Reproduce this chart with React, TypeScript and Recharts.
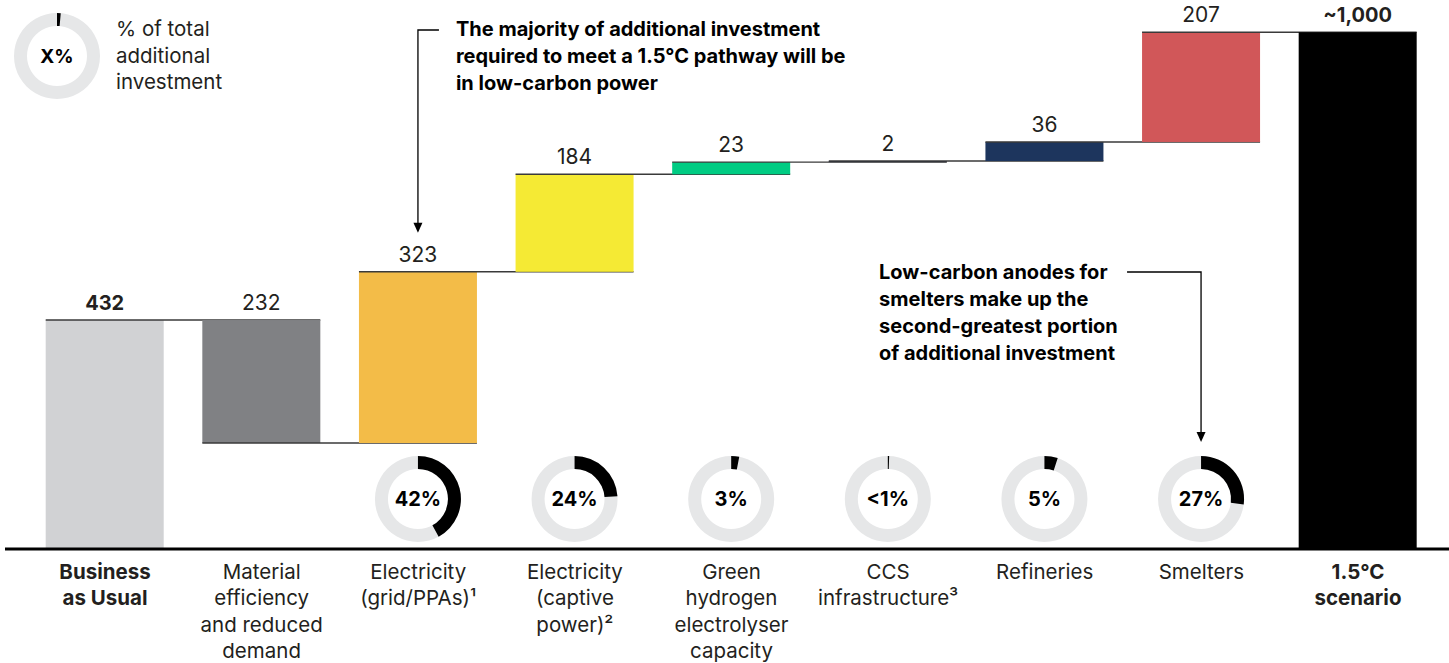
import React from "react";
import { BarChart, Bar, XAxis, YAxis, Cell, LabelList, Sector } from "recharts";

const FONT = "Inter, 'Noto Sans', sans-serif";
const TEXT = "#231f20";

const categories = [
  "Business as Usual",
  "Material efficiency and reduced demand",
  "Electricity (grid/PPAs)¹",
  "Electricity (captive power)²",
  "Green hydrogen electrolyser capacity",
  "CCS infrastructure³",
  "Refineries",
  "Smelters",
  "1.5°C scenario",
];
const tickLines = [
  ["Business", "as Usual"],
  ["Material", "efficiency", "and reduced", "demand"],
  ["Electricity", "(grid/PPAs)¹"],
  ["Electricity", "(captive", "power)²"],
  ["Green", "hydrogen", "electrolyser", "capacity"],
  ["CCS", "infrastructure³"],
  ["Refineries"],
  ["Smelters"],
  ["1.5°C", "scenario"],
];
const boldCategory = [true, false, false, false, false, false, false, false, true];
const kinds = ["total", "delta", "delta", "delta", "delta", "delta", "delta", "delta", "total"];
const values = [432, -232, 323, 184, 23, 2, 36, 207, 975];
const valueLabels = ["432", "232", "323", "184", "23", "2", "36", "207", "~1,000"];
const boldValue = [true, false, false, false, false, false, false, false, true];
const shares = [null, null, 42, 24, 3, 0.5, 5, 27, null];
const shareLabels = ["", "", "42%", "24%", "3%", "<1%", "5%", "27%", ""];
const barColors = ["#d1d2d4", "#808184", "#f3bc48", "#f5ea34", "#00cc83", "#1c2438", "#1d355d", "#d15759", "#000000"];

const annotationPower = [
  "The majority of additional investment",
  "required to meet a 1.5°C pathway will be",
  "in low-carbon power",
];
const annotationSmelters = [
  "Low-carbon anodes for",
  "smelters make up the",
  "second-greatest portion",
  "of additional investment",
];
const legendLines = ["% of total", "additional", "investment"];
const legendMark = "X%";

// waterfall rows
const rows = (() => {
  let running = 0;
  return categories.map((cat, i) => {
    const v = values[i];
    if (kinds[i] === "total") {
      running = v;
      return { cat, base: 0, size: v, delta: v };
    }
    const start = running;
    const end = running + v;
    running = end;
    return { cat, base: Math.min(start, end), size: Math.abs(v), delta: v };
  });
})();

const W = 1449;
const H = 663;
const M_LEFT = 5;
const M_RIGHT = 0;
const PAD_L = 21.7;
const PAD_R = 12.7;
const STEP = (W - M_LEFT - M_RIGHT - PAD_L - PAD_R) / categories.length;

const WaterfallShape = (props: any) => {
  const { x, y, width, height, fill, index } = props;
  const row = rows[index];
  const isLast = index === rows.length - 1;
  const lineY = row.delta < 0 ? y + height : y;
  return (
    <g>
      <rect x={x} y={y} width={width} height={Math.max(height, 0.8)} fill={fill} />
      {!isLast && (
        <line x1={x} x2={x + STEP + width} y1={lineY} y2={lineY} stroke="#3a3a3a" strokeWidth={1.4} />
      )}
    </g>
  );
};

const Donut = ({ cx, cy, share, label }: any) => (
  <g>
    <Sector cx={cx} cy={cy} innerRadius={30} outerRadius={43} startAngle={90} endAngle={-270} fill="#e6e7e8" />
    <Sector cx={cx} cy={cy} innerRadius={30} outerRadius={43} startAngle={90} endAngle={90 - 3.6 * share} fill="#000" />
    <text x={cx} y={cy + 7} textAnchor="middle" fontFamily={FONT} fontWeight={700} fontSize={20} fill="#000">
      {label}
    </text>
  </g>
);

const Arrow = ({ d, tipX, tipY }: any) => (
  <g>
    <path d={d} fill="none" stroke="#000" strokeWidth={1.3} />
    <polygon points={`${tipX - 4.5},${tipY - 10} ${tipX + 4.5},${tipY - 10} ${tipX},${tipY}`} fill="#000" />
  </g>
);

const ValueLabel = (props: any) => {
  const index = props.index;
  const row = rows[index];
  const x = Number(props.x);
  const y = Number(props.y);
  const width = Number(props.width);
  const height = Number(props.height);
  const cx = x + width / 2;
  const ppu = height / row.size;
  const baseline = y + height + row.base * ppu;
  return (
    <g>
      <text
        x={cx}
        y={y - 10}
        textAnchor="middle"
        fontFamily={FONT}
        fontSize={boldValue[index] ? 20 : 21}
        fontWeight={boldValue[index] ? 700 : 400}
        fill={TEXT}
      >
        {valueLabels[index]}
      </text>
      {shares[index] != null && (
        <Donut cx={cx} cy={baseline - 50} share={shares[index]} label={shareLabels[index]} />
      )}
      {index === 2 && (
        <g>
          <Arrow d={`M${cx + 21},30 H${cx} V${y - 48}`} tipX={cx} tipY={y - 39} />
          {annotationPower.map((t, k) => (
            <text key={k} x={cx + 38} y={36 + k * 27} fontFamily={FONT} fontSize={20} fontWeight={700} fill="#000">
              {t}
            </text>
          ))}
        </g>
      )}
      {index === 7 && (
        <g>
          <Arrow d={`M${cx - 74},272 H${cx} V${baseline - 116}`} tipX={cx} tipY={baseline - 107} />
          {annotationSmelters.map((t, k) => (
            <text key={k} x={cx - 322} y={279 + k * 27} fontFamily={FONT} fontSize={20} fontWeight={700} fill="#000">
              {t}
            </text>
          ))}
        </g>
      )}
    </g>
  );
};

const CategoryTick = (props: any) => {
  const { x, y, index } = props;
  const lines = tickLines[index] || [];
  return (
    <text
      x={x}
      y={y}
      textAnchor="middle"
      fontFamily={FONT}
      fontSize={20.5}
      fontWeight={boldCategory[index] ? 700 : 400}
      fill={TEXT}
    >
      {lines.map((l, k) => (
        <tspan key={k} x={x} y={y + 21.5 + k * 26.6}>
          {l}
        </tspan>
      ))}
    </text>
  );
};

const LegendKey = () => (
  <svg width={260} height={110} style={{ position: "absolute", left: 0, top: 0 }}>
    <Sector cx={57} cy={56} innerRadius={30} outerRadius={43} startAngle={90} endAngle={-270} fill="#e6e7e8" />
    <Sector cx={57} cy={56} innerRadius={30} outerRadius={43} startAngle={90} endAngle={85} fill="#000" />
    <text x={57} y={63} textAnchor="middle" fontFamily={FONT} fontSize={19} fontWeight={700} fill="#000">
      {legendMark}
    </text>
    {legendLines.map((t, k) => (
      <text key={k} x={116} y={36 + k * 26.5} fontFamily={FONT} fontSize={20.5} fill={TEXT}>
        {t}
      </text>
    ))}
  </svg>
);

export default function App() {
  return (
    <div style={{ position: "absolute", left: 0, top: 0, width: W, height: H, background: "#fff", fontFamily: FONT }}>
      <BarChart width={W} height={H} data={rows} margin={{ top: 19, right: M_RIGHT, left: M_LEFT, bottom: 0 }} barSize={118}>
        <XAxis
          dataKey="cat"
          interval={0}
          height={114}
          tickLine={false}
          axisLine={{ stroke: "#000", strokeWidth: 3 }}
          tick={<CategoryTick />}
          padding={{ left: PAD_L, right: PAD_R }}
        />
        <YAxis hide domain={[0, 1000]} type="number" />
        <Bar dataKey="base" stackId="w" fill="transparent" isAnimationActive={false} />
        <Bar dataKey="size" stackId="w" isAnimationActive={false} shape={<WaterfallShape />}>
          {rows.map((r, i) => (
            <Cell key={r.cat} fill={barColors[i]} />
          ))}
          <LabelList dataKey="size" content={<ValueLabel />} />
        </Bar>
      </BarChart>
      <LegendKey />
    </div>
  );
}
